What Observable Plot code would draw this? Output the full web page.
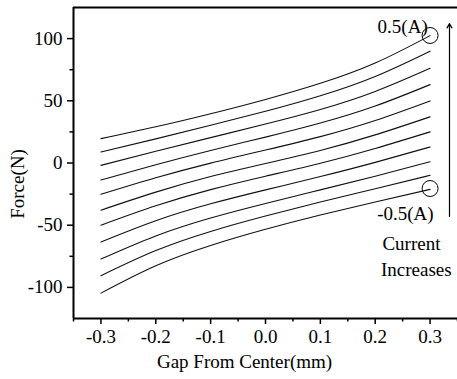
<!DOCTYPE html>
<html>
<head>
<meta charset="utf-8">
<script src="https://cdn.jsdelivr.net/npm/d3@7"></script>
<script src="https://cdn.jsdelivr.net/npm/@observablehq/plot@0.6"></script>
<style>
  html, body { margin: 0; padding: 0; background: #fff; }
  #chart { width: 457px; height: 379px; overflow: hidden; }
</style>
</head>
<body>
<div id="chart"></div>
<script>
// Gap from center (mm) at which each curve is sampled
const gaps = [-0.3, -0.2, -0.1, 0.0, 0.1, 0.2, 0.3];
// Currents (A), one curve each, from top to bottom
const currents = [0.5, 0.4, 0.3, 0.2, 0.1, 0.0, -0.1, -0.2, -0.3, -0.4, -0.5];
// Force (N) per curve, read at the gaps above
const force_p05 = [19.6, 29.1, 39.6, 51.1, 64.1, 80.4, 102.4];
const force_p04 = [8.9, 19.4, 30.3, 41.6, 54.1, 69.6, 89.9];
const force_p03 = [-1.9, 9.4, 20.4, 31.3, 43.0, 57.5, 76.1];
const force_p02 = [-13.7, -1.4, 10.1, 20.8, 32.1, 45.8, 63.0];
const force_p01 = [-25.2, -11.9, -0.1, 10.4, 21.2, 34.2, 49.9];
const force_000 = [-37.9, -23.4, -10.9, -0.4, 10.1, 22.6, 37.1];
const force_m01 = [-50.0, -34.4, -21.4, -10.6, -0.2, 11.7, 25.0];
const force_m02 = [-63.5, -46.4, -32.8, -21.6, -10.9, 0.5, 12.9];
const force_m03 = [-77.2, -58.6, -44.2, -32.5, -21.6, -10.6, 1.0];
const force_m04 = [-90.6, -70.4, -55.0, -42.6, -31.4, -20.7, -9.9];
const force_m05 = [-104.6, -82.6, -66.3, -53.3, -41.8, -31.3, -21.2];
const forceSeries = [force_p05, force_p04, force_p03, force_p02, force_p01, force_000,
                     force_m01, force_m02, force_m03, force_m04, force_m05];

// Tick values
const xTicks = [-0.3, -0.2, -0.1, 0.0, 0.1, 0.2, 0.3];
const xMinorTicks = [-0.35, -0.25, -0.15, -0.05, 0.05, 0.15, 0.25, 0.35];
const yTicks = [-100, -50, 0, 50, 100];
const yMinorTicks = [-75, -25, 25, 75];

// Annotations
const circleGaps = [0.3, 0.3];
const circleForces = [102.5, -20.5];
const noteTexts = ["0.5(A)", "-0.5(A)", "Current", "Increases"];
const noteGaps = [0.25, 0.255, 0.266, 0.275];
const noteForces = [109.7, -40.6, -64.7, -85.6];
const arrowGap = [0.3354];
const arrowFrom = [-43];
const arrowTo = [112];

const rows = [];
currents.forEach((c, i) => gaps.forEach((g, j) => rows.push({current: c, gap: g, force: forceSeries[i][j]})));
const circles = circleGaps.map((g, i) => ({gap: g, force: circleForces[i]}));
const notes = noteTexts.map((t, i) => ({text: t, gap: noteGaps[i], force: noteForces[i]}));
const arrows = arrowGap.map((g, i) => ({gap: g, y1: arrowFrom[i], y2: arrowTo[i]}));

const chart = Plot.plot({
  width: 457,
  height: 379,
  marginLeft: 73,
  marginRight: 0,
  marginTop: 7,
  marginBottom: 61,
  x: {domain: [-0.35, 0.35]},
  y: {domain: [-125, 125]},
  style: {
    fontFamily: "'Liberation Serif', 'Times New Roman', serif",
    fontSize: "19px",
    color: "#000",
    background: "#fff",
    overflow: "visible"
  },
  marks: [
    Plot.line(rows, {x: "gap", y: "force", z: "current", curve: "natural", stroke: "#111", strokeWidth: 1.1}),
    Plot.axisX(xTicks, {tickSize: 6, tickPadding: 5, tickFormat: d => d.toFixed(1), label: null, strokeWidth: 1.5}),
    Plot.axisX(xMinorTicks, {tickSize: 3.5, fill: "none", label: null, strokeWidth: 1.5}),
    Plot.axisY(yTicks, {tickSize: 6, tickPadding: 5, tickFormat: d => String(d), label: null, strokeWidth: 1.5}),
    Plot.axisY(yMinorTicks, {tickSize: 3.5, fill: "none", label: null, strokeWidth: 1.5}),
    Plot.ruleY([-125], {stroke: "#000", strokeWidth: 2}),
    Plot.ruleY([125], {stroke: "#000", strokeWidth: 2}),
    Plot.ruleX([-0.35], {stroke: "#000", strokeWidth: 2}),
    Plot.dot(circles, {x: "gap", y: "force", r: 8, stroke: "#000", strokeWidth: 1, fill: "none"}),
    Plot.text(notes, {x: "gap", y: "force", text: "text", fill: "#000", fontSize: 19}),
    Plot.arrow(arrows, {x1: "gap", x2: "gap", y1: "y1", y2: "y2", stroke: "#000", strokeWidth: 1.2, headLength: 6}),
    Plot.text(["Gap From Center(mm)"], {frameAnchor: "bottom", lineAnchor: "middle", textAnchor: "middle", dx: -21, dy: 43, fill: "#000", fontSize: 19}),
    Plot.text(["Force(N)"], {frameAnchor: "left", lineAnchor: "middle", textAnchor: "middle", dx: -56, dy: 21, rotate: -90, fill: "#000", fontSize: 19})
  ]
});
document.getElementById("chart").appendChild(chart);
</script>
</body>
</html>
